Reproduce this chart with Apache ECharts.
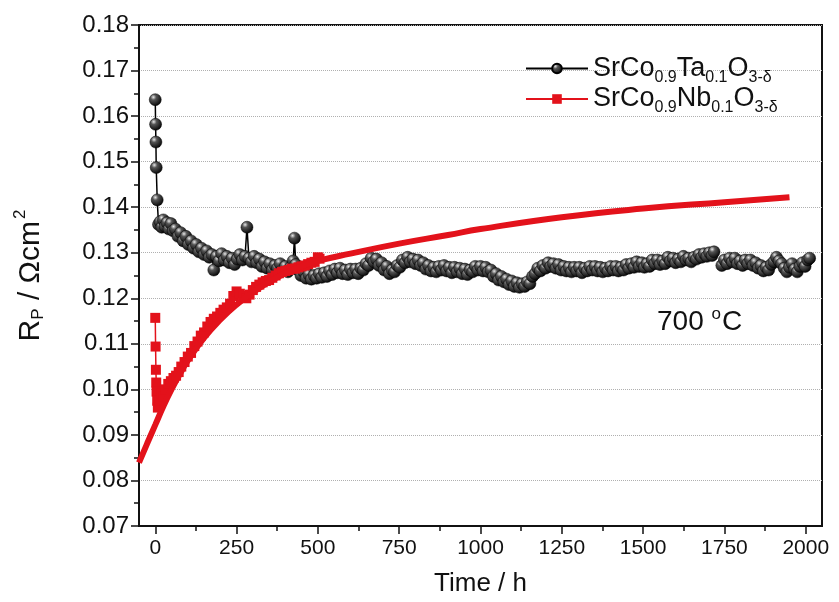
<!DOCTYPE html>
<html><head><meta charset="utf-8">
<script src="https://cdn.jsdelivr.net/npm/echarts@6/dist/echarts.min.js"></script>
<style>html,body{margin:0;padding:0;background:#fff}#c{width:839px;height:602px}</style>
</head><body><div id="c"></div>
<script>
// ---- data ----
const xTicks = [0,250,500,750,1000,1250,1500,1750,2000];
const xMinorTicks = [125,375,625,875,1125,1375,1625,1875];
const seriesNames = ['SrCo0.9Ta0.1O3-δ','SrCo0.9Nb0.1O3-δ'];
const taData = [[0,0.1636],[1,0.1582],[2,0.1543],[3,0.1487],[6,0.1416],[10,0.1362],[15,0.1368],[20,0.1356],[25,0.1372],[30,0.1358],[36,0.1366],[42,0.1352],[48,0.1364],[55,0.1348],[62,0.1352],[70,0.1336],[78,0.1344],[86,0.1326],[94,0.1336],[102,0.1318],[110,0.1326],[118,0.131],[126,0.1318],[134,0.1302],[142,0.131],[150,0.1296],[158,0.1304],[166,0.129],[174,0.1296],[180,0.1262],[188,0.1292],[196,0.1282],[204,0.1298],[212,0.1284],[220,0.1292],[228,0.1278],[236,0.1288],[244,0.1274],[252,0.1286],[260,0.1296],[268,0.1284],[276,0.1292],[282,0.1356],[288,0.1288],[296,0.128],[304,0.1292],[312,0.1278],[320,0.1286],[328,0.127],[336,0.128],[344,0.1266],[352,0.1276],[360,0.1262],[368,0.1272],[376,0.1266],[384,0.1276],[392,0.1262],[400,0.127],[408,0.1258],[416,0.1268],[424,0.1282],[428,0.1332],[432,0.1274],[440,0.1262],[448,0.125],[456,0.1258],[464,0.1244],[472,0.1252],[480,0.1242],[488,0.125],[496,0.1244],[504,0.1254],[512,0.1246],[520,0.1256],[528,0.1248],[536,0.126],[544,0.1252],[552,0.1264],[560,0.1256],[568,0.1266],[576,0.1254],[584,0.1262],[592,0.1252],[600,0.1264],[608,0.1256],[616,0.1264],[624,0.1254],[632,0.1266],[640,0.1262],[648,0.1276],[656,0.1272],[664,0.1288],[672,0.128],[680,0.1286],[688,0.1272],[696,0.1278],[704,0.1262],[712,0.127],[720,0.1254],[728,0.1262],[736,0.1258],[744,0.1272],[752,0.1268],[760,0.1284],[768,0.1278],[776,0.129],[784,0.128],[792,0.1286],[800,0.1276],[808,0.1284],[816,0.1272],[824,0.1278],[832,0.1264],[840,0.1272],[848,0.126],[856,0.1268],[864,0.1258],[872,0.127],[880,0.1262],[888,0.1272],[896,0.126],[904,0.1268],[912,0.1256],[920,0.1268],[928,0.1258],[936,0.1266],[944,0.1254],[952,0.1264],[960,0.1252],[968,0.1262],[976,0.1258],[984,0.127],[992,0.1262],[1000,0.127],[1008,0.126],[1016,0.1268],[1024,0.1258],[1032,0.1262],[1040,0.1248],[1048,0.1254],[1056,0.124],[1064,0.1248],[1072,0.1236],[1080,0.1242],[1088,0.123],[1096,0.1238],[1104,0.1226],[1112,0.1234],[1120,0.1224],[1128,0.1232],[1136,0.1226],[1144,0.1236],[1152,0.1232],[1160,0.1248],[1168,0.1254],[1176,0.1266],[1184,0.126],[1192,0.1272],[1200,0.1266],[1208,0.1278],[1216,0.127],[1224,0.1276],[1232,0.1266],[1240,0.1274],[1248,0.1262],[1256,0.127],[1264,0.126],[1272,0.1268],[1280,0.1258],[1288,0.1268],[1296,0.126],[1304,0.1268],[1312,0.1256],[1320,0.1266],[1328,0.126],[1336,0.127],[1344,0.1262],[1352,0.127],[1360,0.126],[1368,0.1268],[1376,0.1258],[1384,0.1266],[1392,0.126],[1400,0.127],[1408,0.1262],[1416,0.127],[1424,0.126],[1432,0.1268],[1440,0.1262],[1448,0.1274],[1456,0.1266],[1464,0.1276],[1472,0.1268],[1480,0.128],[1488,0.127],[1496,0.1278],[1504,0.1268],[1512,0.1276],[1520,0.127],[1528,0.1284],[1536,0.1276],[1544,0.1284],[1552,0.1274],[1560,0.1282],[1568,0.1276],[1576,0.129],[1584,0.1282],[1592,0.1288],[1600,0.1278],[1608,0.1286],[1616,0.128],[1624,0.1292],[1632,0.1284],[1640,0.1288],[1648,0.128],[1656,0.129],[1664,0.1286],[1672,0.1296],[1680,0.129],[1688,0.1298],[1696,0.1292],[1704,0.13],[1712,0.1294],[1718,0.1302],[1730,'-'],[1742,0.1272],[1750,0.1284],[1758,0.1276],[1766,0.1288],[1774,0.128],[1782,0.1288],[1790,0.1276],[1798,0.1282],[1806,0.1272],[1814,0.1284],[1822,0.1276],[1830,0.1284],[1838,0.1272],[1846,0.1278],[1854,0.1266],[1862,0.1272],[1870,0.126],[1878,0.1268],[1886,0.1262],[1894,0.1274],[1902,0.128],[1910,0.129],[1918,0.1282],[1926,0.1276],[1934,0.1266],[1942,0.1258],[1950,0.1268],[1958,0.1276],[1966,0.1264],[1974,0.1258],[1982,0.127],[1990,0.1278],[1998,0.127],[2006,0.1284],[2012,0.1288]];
const nbData = [[0,0.1157],[1,0.1094],[2,0.1043],[3,0.1015],[4,0.0995],[6,0.0975],[8,0.096],[12,0.0975],[18,0.099],[25,0.0985],[32,0.1],[40,0.1012],[48,0.1018],[56,0.1025],[64,0.103],[72,0.1038],[80,0.105],[90,0.106],[100,0.1072],[110,0.108],[120,0.1095],[130,0.1105],[140,0.1118],[150,0.1125],[160,0.1138],[170,0.1148],[180,0.1155],[190,0.116],[200,0.1168],[210,0.1175],[220,0.118],[230,0.1188],[240,0.1205],[250,0.1215],[260,0.121],[270,0.1205],[280,0.12],[290,0.1208],[300,0.1218],[310,0.1225],[320,0.123],[330,0.1235],[340,0.1238],[350,0.124],[360,0.1245],[370,0.125],[380,0.1255],[390,0.1258],[400,0.126],[410,0.1262],[420,0.1265],[430,0.1265],[440,0.1268],[450,0.127],[460,0.1272],[470,0.1275],[480,0.1278],[490,0.128],[500,0.129],[505,0.1287]];
const nbFit = [[-50,0.0839],[-25,0.0881],[0,0.0922],[25,0.0963],[50,0.1],[75,0.1033],[100,0.1063],[150,0.1113],[200,0.1153],[250,0.1186],[300,0.1213],[350,0.1236],[400,0.1255],[450,0.127],[500,0.1282],[600,0.1298],[750,0.132],[900,0.1339],[1000,0.1352],[1250,0.1378],[1500,0.1397],[1750,0.1411],[1950,0.1422]];
const annotation = '{n|700 }{o|o}{n|C}';

// ---- chart ----
const chart = echarts.init(document.getElementById('c'));
const sphere = new echarts.graphic.RadialGradient(0.35, 0.3, 0.75, [
  {offset: 0, color: '#e8e8e8'}, {offset: 0.3, color: '#555'}, {offset: 1, color: '#000'}]);
const FF = 'Liberation Sans';
const legendFmt = {
  [seriesNames[0]]: '{n|SrCo}{s|0.9}{n|Ta}{s|0.1}{n|O}{s|3-δ}',
  [seriesNames[1]]: '{n|SrCo}{s|0.9}{n|Nb}{s|0.1}{n|O}{s|3-δ}'
};
chart.setOption({
  animation: false,
  backgroundColor: '#fff',
  grid: {left: 139, right: 17, top: 25, bottom: 73, show: true, borderColor: '#111', borderWidth: 2, backgroundColor: 'transparent'},
  legend: {
    data: seriesNames, orient: 'vertical', left: 520, top: 50, itemWidth: 62, itemHeight: 12, itemGap: 0,
    formatter: n => legendFmt[n],
    textStyle: {fontSize: 27, color: '#111', rich: {
      n: {fontSize: 27, fontFamily: FF, color: '#111'},
      s: {fontSize: 16, fontFamily: FF, color: '#111', padding: [18, 0, 0, 0]}}}
  },
  xAxis: [{
    type: 'value', min: -50, max: 2050, position: 'bottom',
    axisLine: {onZero: false, lineStyle: {color: '#111', width: 2}},
    axisTick: {customValues: xTicks, length: 8, lineStyle: {color: '#111', width: 1.5}},
    axisLabel: {customValues: xTicks, fontSize: 21, color: '#111', fontFamily: FF, margin: 12, formatter: v => String(v)},
    splitLine: {show: false},
    name: 'Time / h', nameLocation: 'middle', nameGap: 45,
    nameTextStyle: {fontSize: 26, color: '#111', fontFamily: FF}
  }, {
    type: 'value', min: -50, max: 2050, position: 'bottom', gridIndex: 0,
    axisLine: {show: false}, axisLabel: {show: false}, splitLine: {show: false},
    axisTick: {customValues: xMinorTicks, length: 5, lineStyle: {color: '#111', width: 1.5}}
  }],
  yAxis: {
    type: 'value', min: 0.07, max: 0.18, interval: 0.01,
    axisLine: {show: true, onZero: false, lineStyle: {color: '#111', width: 2}},
    axisTick: {show: true, length: 8, lineStyle: {color: '#111', width: 1.5}},
    minorTick: {show: true, splitNumber: 2, length: 5, lineStyle: {color: '#111', width: 1.5}},
    axisLabel: {fontSize: 24, color: '#111', fontFamily: FF, margin: 10, formatter: v => v.toFixed(2)},
    splitLine: {show: true, lineStyle: {color: '#b0b0b0', type: 'dotted', width: 1}},
    name: '{n|R}{s|P}{n| / Ωcm}{p|2}', nameLocation: 'middle', nameGap: 90, nameRotate: 90,
    nameTextStyle: {rich: {
      n: {fontSize: 30, fontFamily: FF, color: '#111'},
      s: {fontSize: 17, fontFamily: FF, color: '#111', padding: [16, 0, 0, 0]},
      p: {fontSize: 17, fontFamily: FF, color: '#111', padding: [0, 0, 20, 2]}}}
  },
  graphic: [{type: 'text', left: 657, top: 306, style: {text: annotation, fill: '#111', rich: {
    n: {fontSize: 28, fontFamily: FF, fill: '#111'},
    o: {fontSize: 17, fontFamily: FF, fill: '#111', padding: [0, 1, 15, 0]}}}}],
  series: [{
    name: seriesNames[0], type: 'line', data: taData, connectNulls: false,
    symbol: 'circle', symbolSize: 12,
    itemStyle: {color: sphere, borderColor: '#000', borderWidth: 0.5},
    lineStyle: {color: '#000', width: 1.5}, z: 2
  }, {
    name: seriesNames[1], type: 'line', data: nbData,
    symbol: 'rect', symbolSize: 10,
    itemStyle: {color: '#e3121b'}, lineStyle: {color: '#e3121b', width: 1.5}, z: 3
  }, {
    name: 'fit', type: 'line', data: nbFit, smooth: true, symbol: 'none',
    lineStyle: {color: '#e3121b', width: 6}, z: 4
  }]
});
</script></body></html>
